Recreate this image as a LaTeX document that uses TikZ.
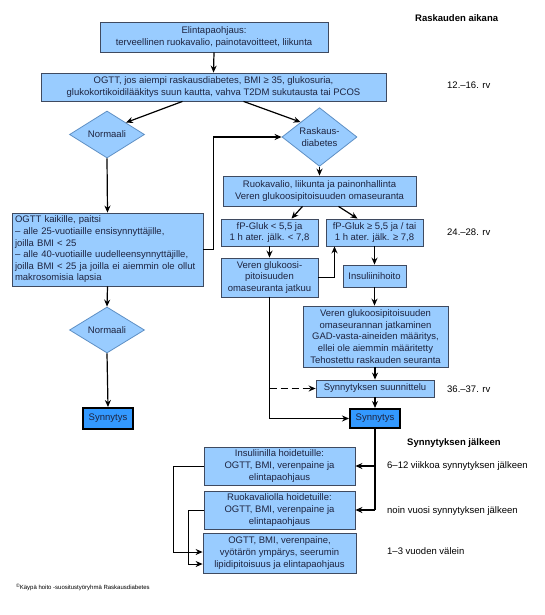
\documentclass[tikz,border=0pt]{standalone}
\usepackage{fontspec}
\setmainfont{Liberation Sans}
\usetikzlibrary{shapes.geometric,arrows.meta,calc}
\definecolor{boxfill}{HTML}{99CCFF}
\definecolor{synfill}{HTML}{3399FF}
\definecolor{boxline}{HTML}{3F4A60}
\definecolor{diamline}{HTML}{5E8FC4}
\definecolor{txt}{HTML}{1E2440}
\begin{document}
\begin{tikzpicture}[x=1pt,y=-1pt,
  every node/.style={font=\fontsize{9.5}{11.6}\selectfont, text=txt, inner sep=0pt},
  bx/.style={draw=boxline, line width=0.8pt, fill=boxfill, align=center, rectangle},
  syn/.style={draw=black, line width=2pt, fill=synfill, align=center, rectangle},
  dia/.style={draw=diamline, line width=0.8pt, fill=boxfill, diamond, align=center, inner sep=0pt},
  arr/.style={-{Stealth[length=7pt,width=6pt]}, line width=1.2pt, black},
  ln/.style={line width=1.2pt, black},
  side/.style={anchor=west, text=black},
]
\useasboundingbox (0,0) rectangle (544,615);
% nodes
\node[bx, minimum width=228pt, minimum height=30pt] (b1) at (214,37) {Elintapaohjaus:\\terveellinen ruokavalio, painotavoitteet, liikunta};
\node[bx, minimum width=345pt, minimum height=28pt] (b2) at (213.5,87) {OGTT, jos aiempi raskausdiabetes, BMI ≥ 35, glukosuria,\\glukokortikoidilääkitys suun kautta, vahva T2DM sukutausta tai PCOS};
\node[dia, minimum width=75pt, minimum height=47pt] (d1) at (107,134.5) {Normaali};
\node[dia, minimum width=75pt, minimum height=48pt] (d2) at (319.5,137) {Raskaus-\\diabetes};
\node[bx, minimum width=191pt, minimum height=73pt, text width=185pt, align=left] (kai) at (107.5,249.5) {OGTT kaikille, paitsi\\– alle 25-vuotiaille ensisynnyttäjille,\\joilla BMI < 25\\– alle 40-vuotiaille uudelleensynnyttäjille,\\joilla BMI < 25 ja joilla ei aiemmin ole ollut\\makrosomisia lapsia};
\node[bx, minimum width=193pt, minimum height=30pt] (ruo) at (319.5,191) {Ruokavalio, liikunta ja painonhallinta\\Veren glukoosipitoisuuden omaseuranta};
\node[bx, minimum width=97pt, minimum height=27pt] (fpl) at (269.5,232.5) {fP-Gluk < 5,5 ja\\1 h ater. jälk. < 7,8};
\node[bx, minimum width=97pt, minimum height=27pt] (fpg) at (374.5,232.5) {fP-Gluk ≥ 5,5 ja / tai\\1 h ater. jälk. ≥ 7,8};
\node[bx, minimum width=97pt, minimum height=39pt] (ver) at (269.5,277.5) {Veren glukoosi-\\pitoisuuden\\omaseuranta jatkuu};
\node[bx, minimum width=63pt, minimum height=22pt] (ins) at (374.5,276) {Insuliinihoito};
\node[bx, minimum width=145pt, minimum height=61pt] (big) at (375.5,336.5) {Veren glukoosipitoisuuden\\omaseurannan jatkaminen\\GAD-vasta-aineiden määritys,\\ellei ole aiemmin määritetty\\Tehostettu raskauden seuranta};
\node[bx, minimum width=118pt, minimum height=17pt] (suu) at (375,388.5) {Synnytyksen suunnittelu};
\node[syn, minimum width=50pt, minimum height=19pt] (synR) at (375,418.5) {Synnytys};
\node[dia, minimum width=75pt, minimum height=46pt] (d3) at (107,330) {Normaali};
\node[syn, minimum width=50pt, minimum height=21pt] (synL) at (108,418.5) {Synnytys};
\node[bx, minimum width=151pt, minimum height=38pt] (insl) at (279.5,466) {Insuliinilla hoidetuille:\\OGTT, BMI, verenpaine ja\\elintapaohjaus};
\node[bx, minimum width=151pt, minimum height=38pt] (ruol) at (279.5,510) {Ruokavaliolla hoidetuille:\\OGTT, BMI, verenpaine ja\\elintapaohjaus};
\node[bx, minimum width=153pt, minimum height=40pt] (bmi) at (279.5,553) {OGTT, BMI, verenpaine,\\vyötärön ympärys, seerumin\\lipidipitoisuus ja elintapaohjaus};
% side labels
\node[side, font=\fontsize{9.5}{11.6}\selectfont\bfseries] (l0) at (415,18) {Raskauden aikana};
\node[side] (l1) at (447,85) {12.–16. rv};
\node[side] (l2) at (447,232) {24.–28. rv};
\node[side] (l3) at (447,389) {36.–37. rv};
\node[side, font=\fontsize{9.5}{11.6}\selectfont\bfseries] (l4) at (407,443) {Synnytyksen jälkeen};
\node[side] (l5) at (387,466) {6–12 viikkoa synnytyksen jälkeen};
\node[side] (l6) at (387,511) {noin vuosi synnytyksen jälkeen};
\node[side] (l7) at (387,551) {1–3 vuoden välein};
\node[side, font=\fontsize{6}{7}\selectfont] (fn) at (16,587) {\raisebox{0.6ex}{\fontsize{5}{6}\selectfont ©}Käypä hoito -suositustyöryhmä Raskausdiabetes};
% connectors
\draw[arr] (b1.south) -- (b2.north);
\draw[arr] ([xshift=-31pt]b2.south) -- (d1.north east);
\draw[arr] ([xshift=30pt]b2.south) -- (d2.north west);
\draw[arr] (d1.south) -- (kai.north);
\draw[arr] (kai.east) -- ++(10,0) |- (d2.west);
\draw[arr] (d2.south) -- (ruo.north);
\draw[arr] ([xshift=-17pt]ruo.south) -- ([xshift=22pt]fpl.north);
\draw[arr] ([xshift=19pt]ruo.south) -- ([xshift=-17pt]fpg.north);
\draw[arr] (fpl.south) -- (ver.north);
\draw[arr] (ver.east) -| ([xshift=-40pt]fpg.south);
\draw[arr] (fpg.south) -- (ins.north);
\draw[arr] (ins.south) -- (ins.south |- big.north);
\draw[arr] (big.south -| suu.north) -- (suu.north);
\draw[arr] (suu.south) -- (synR.north);
\draw[arr] (ver.south) |- (synR.west);
\draw[arr, dashed, dash pattern=on 7pt off 4pt] (ver.south |- suu.west) -- (suu.west);
\draw[arr] (kai.south) -- (d3.north);
\draw[arr] (d3.south) -- (synL.north);
\draw[ln] (synR.south) -- (synR.south |- ruol.east);
\draw[arr] (synR.south |- insl.east) -- (insl.east);
\draw[arr] (synR.south |- ruol.east) -- (ruol.east);
\draw[arr, line width=1pt] (insl.west) -- ++(-30,0) |- ([yshift=1pt]bmi.west);
\draw[arr, line width=1pt] (ruol.west) -- ++(-15,0) |- ([yshift=-11pt]bmi.west);
\end{tikzpicture}
\end{document}
